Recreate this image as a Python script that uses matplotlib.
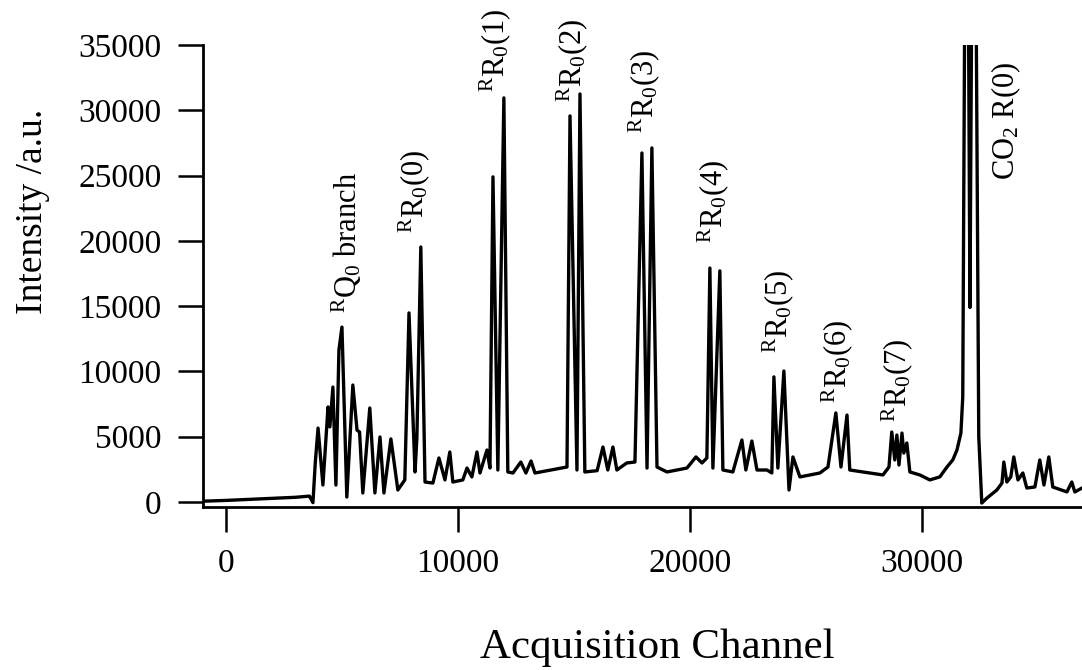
import matplotlib
matplotlib.use("Agg")
import matplotlib.pyplot as plt

plt.rcParams['font.family'] = ['Liberation Serif', 'DejaVu Serif']
plt.rcParams['mathtext.fontset'] = 'custom'
plt.rcParams['mathtext.rm'] = 'Liberation Serif'
plt.rcParams['mathtext.it'] = 'Liberation Serif:italic'
plt.rcParams['mathtext.bf'] = 'Liberation Serif:bold'

# Spectrum (channel, intensity)
channel = [-1000, 0, 1000, 2000, 3000, 3600, 3750, 3850, 3970, 4180, 4400, 4480, 4610, 4740,
           4870, 5000, 5210, 5470, 5650, 5760, 5900, 6200, 6420, 6640, 6810, 7110, 7410,
           7710, 7890, 8150, 8230, 8400, 8580, 8920, 9180, 9440, 9650, 9780, 10210, 10390,
           10600, 10820, 10950, 11250, 11380, 11510, 11720, 11980, 12150, 12370, 12710, 12930,
           13150, 13320, 14000, 14700, 14830, 15130, 15260, 15470, 16000, 16250, 16460, 16680,
           16850, 17280, 17630, 17930, 18150, 18360, 18580, 19010, 19870, 20260, 20520, 20730,
           20860, 20990, 21290, 21420, 21850, 22240, 22410, 22670, 22890, 23320, 23530, 23620,
           23790, 24050, 24270, 24440, 24740, 25600, 25950, 26290, 26510, 26770, 26890, 27450,
           28320, 28580, 28700, 28830, 28920, 29010, 29140, 29220, 29350, 29480, 29910, 30340,
           30770, 31080, 31330, 31510, 31680, 31760, 31850, 32000, 32070, 32150, 32330, 32450,
           32580, 32800, 33230, 33450, 33530, 33660, 33830, 33960, 34140, 34350, 34520, 34870,
           35080, 35260, 35470, 35640, 36250, 36460, 36590, 36900]
intensity = [60, 120, 200, 280, 360, 450, -50, 3000, 5660, 1300, 7280, 5750, 8800, 1300,
             11640, 13400, 380, 8960, 5500, 5360, 690, 7200, 690, 4980, 690, 4830, 920,
             1690, 14480, 2300, 4900, 19530, 1530, 1450, 3370, 1690, 3830, 1530, 1690, 2600,
             1920, 3830, 2220, 3980, 2600, 24900, 2450, 30950, 2300, 2220, 3060, 2220,
             3140, 2220, 2450, 2680, 29570, 2450, 31250, 2300, 2400, 4210, 2450, 4210,
             2450, 2990, 3060, 26730, 2600, 27120, 2680, 2300, 2600, 3450, 2990, 3370,
             17920, 2600, 17700, 2450, 2300, 4750, 2450, 4670, 2450, 2450, 2220, 9580,
             2600, 10030, 920, 3450, 1920, 2220, 2680, 6820, 2680, 6660, 2450, 2300,
             2070, 2680, 5360, 3220, 5130, 2830, 5280, 3750, 4520, 2300, 2070, 1690,
             1920, 2680, 3220, 3980, 5280, 8040, 40000, 40000, 14900, 40000, 40000, 5000,
             -80, 300, 920, 1450, 3060, 1530, 1920, 3450, 1690, 2220, 1070, 1150,
             3220, 1300, 3450, 1150, 770, 1530, 770, 1070]

labels = [r'$^{\rm R}{\rm Q}_0$ branch', r'$^{\rm R}{\rm R}_0(0)$', r'$^{\rm R}{\rm R}_0(1)$',
          r'$^{\rm R}{\rm R}_0(2)$', r'$^{\rm R}{\rm R}_0(3)$', r'$^{\rm R}{\rm R}_0(4)$',
          r'$^{\rm R}{\rm R}_0(5)$', r'$^{\rm R}{\rm R}_0(6)$', r'$^{\rm R}{\rm R}_0(7)$',
          r'CO$_2$ R(0)']
label_x = [5215, 8100, 11590, 14910, 18020, 20990, 23790, 26330, 28920, 33620]
label_y = [14480, 20600, 31400, 30640, 28270, 19840, 11410, 7580, 6130, 24670]

xticks = [0, 10000, 20000, 30000]
yticks = [0, 5000, 10000, 15000, 20000, 25000, 30000, 35000]

fig = plt.figure(figsize=(10.82, 6.70), dpi=100)
ax = fig.add_axes([0.1876, 0.2433, 0.8124, 0.6895])
ax.plot(channel, intensity, color='black', lw=2.4, solid_joinstyle='round')
ax.set_xlim(-990, 36900)
ax.set_ylim(-383, 35000)

for s in ['top', 'right']:
    ax.spines[s].set_visible(False)
for s in ['left', 'bottom']:
    ax.spines[s].set_linewidth(2.0)

ax.set_xticks(xticks)
ax.set_yticks(yticks)
ax.set_xticklabels([str(v) for v in xticks])
ax.set_yticklabels([str(v) for v in yticks])
ax.tick_params(axis='both', direction='out', length=18, width=1.8, labelsize=24)
ax.tick_params(axis='x', pad=12)
ax.tick_params(axis='y', pad=12)

ax.set_xlabel('Acquisition Channel', fontsize=31)
ax.xaxis.set_label_coords(0.517, -0.262)
ax.set_ylabel('Intensity /a.u.', fontsize=27)
ax.yaxis.set_label_coords(-0.174, 0.64)

for t, x, y in zip(labels, label_x, label_y):
    ax.text(x, y, t, rotation=90, ha='center', va='bottom', fontsize=22)

fig.savefig('out.png', dpi=100)
